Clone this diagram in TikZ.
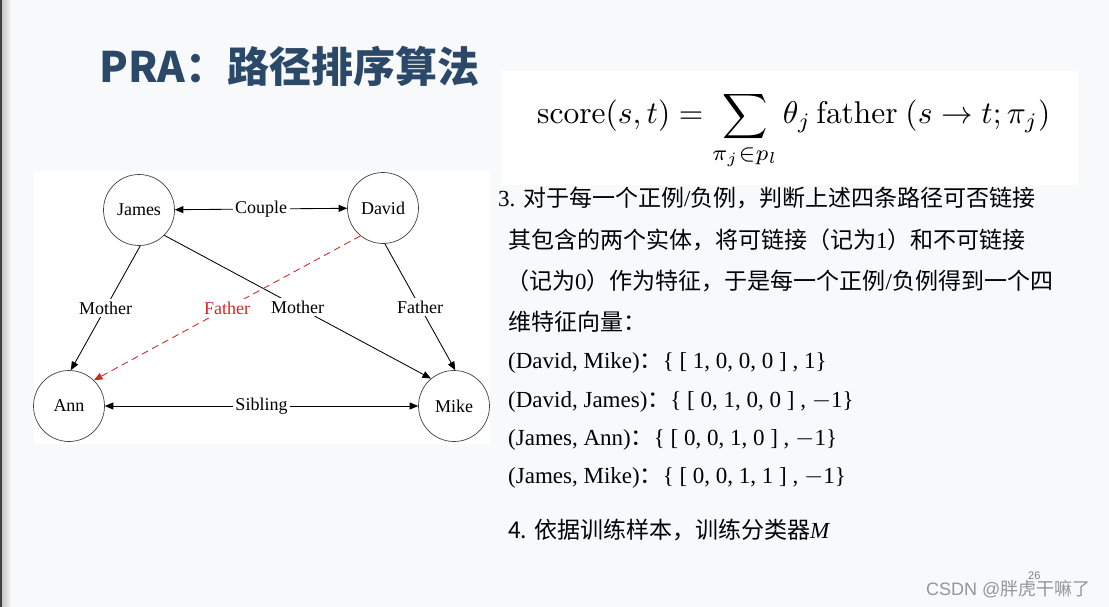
\documentclass[tikz,border=0pt]{standalone}
\usepackage[no-math]{fontspec}
\usepackage{graphicx}
\usetikzlibrary{arrows.meta}
\setmainfont{Liberation Serif}
\newfontfamily\cjk{Noto Sans CJK SC}
\newfontfamily\sans{Liberation Sans}
\definecolor{bg}{RGB}{248,249,251}
\definecolor{titleblue}{RGB}{43,72,105}
\definecolor{redline}{RGB}{210,40,40}
\definecolor{wm}{RGB}{150,150,150}
\definecolor{pgnum}{RGB}{120,130,150}
\begin{document}
\begin{tikzpicture}[x=1pt,y=-1pt,
  person/.style={circle,draw=black!75,line width=0.7pt,minimum size=71pt,inner sep=0pt,font=\fontsize{18}{18}\selectfont,fill=white},
  tip/.tip={Triangle[length=8.5pt,width=7pt]},
  rel/.style={-tip,line width=0.85pt},
  birel/.style={tip-tip,line width=0.85pt},
  lab/.style={fill=white,inner sep=2.5pt,font=\fontsize{18}{18}\selectfont},
  txt/.style={anchor=base west,inner sep=0pt,font=\fontsize{23}{23}\selectfont},
]
\useasboundingbox (0,0) rectangle (1109,607);
\fill[bg] (0,0) rectangle (1109,607);
\shade[left color=black!25,right color=black!6] (0,0) rectangle (10,607);
\fill[black!75] (0,0) rectangle (1.5,607);

% title
\node[anchor=base west,inner sep=0pt,text=titleblue,font=\cjk\bfseries\fontsize{42}{42}\selectfont] (title) at (99,83) {PRA：路径排序算法};

% formula
\node[fill=white,minimum width=576pt,minimum height=114pt,anchor=north west,inner sep=0pt] (fbox) at (502,71) {};
\node[anchor=base west,inner sep=0pt] (formula) at (537,124) {\resizebox{513pt}{!}{$\displaystyle \mathrm{score}(s,t)=\sum_{\pi_j\in p_l}\theta_j\,\mathrm{father}\ (s\rightarrow t;\pi_j)$}};

% graph
\node[fill=white,minimum width=456pt,minimum height=273pt,anchor=north west,inner sep=0pt] (gbox) at (34,171) {};
\node[person] (James) at (139,210) {James};
\node[person] (David) at (383,208) {David};
\node[person] (Ann) at (69,406) {Ann};
\node[person] (Mike) at (454,406) {Mike};

\draw[birel] (James) -- node[lab]{Couple} (David);
\draw[birel] (Ann) -- node[lab]{Sibling} (Mike);
\draw[rel] (James.-88) -- node[lab]{Mother} (Ann.87);
\draw[rel] (James.-45) -- node[lab]{Mother} (Mike.130);
\draw[rel] (David.-87) -- node[lab]{Father} (Mike.88);
\draw[rel,redline,dash pattern=on 7pt off 4.5pt] (David.231) -- node[lab,text=redline]{Father} (Ann.46);

% text
\node[txt] (l1) at (498,206) {3. {\cjk 对于每一个正例}/{\cjk 负例，判断上述四条路径可否链接}};
\node[txt] (l2) at (508,248) {{\cjk 其包含的两个实体，将可链接（记为}1{\cjk ）和不可链接}};
\node[txt] (l3) at (506,289) {{\cjk （记为}0{\cjk ）作为特征，于是每一个正例}/{\cjk 负例得到一个四}};
\node[txt] (l4) at (508,330) {{\cjk 维特征向量：}};
\node[txt] (l5) at (508,368) {(David, Mike){\cjk ：}\{ [ 1, 0, 0, 0 ] , 1\}};
\node[txt] (l6) at (508,407) {(David, James){\cjk ：}\{ [ 0, 1, 0, 0 ] , $-$1\}};
\node[txt] (l7) at (508,445) {(James, Ann){\cjk ：}\{ [ 0, 0, 1, 0 ] , $-$1\}};
\node[txt] (l8) at (508,483) {(James, Mike){\cjk ：}\{ [ 0, 0, 1, 1 ] , $-$1\}};
\node[txt] (l9) at (508,538) {{\cjk 4. 依据训练样本，训练分类器}\textit{M}};

% footer
\node[anchor=base west,inner sep=0pt,text=pgnum,font=\sans\fontsize{11}{11}\selectfont] (pg) at (1028,579) {26};
\node[anchor=base west,inner sep=0pt,text=wm,font=\sans\fontsize{18}{18}\selectfont] (wmark) at (926,595) {CSDN @{\cjk 胖虎干嘛了}};
\end{tikzpicture}
\end{document}
